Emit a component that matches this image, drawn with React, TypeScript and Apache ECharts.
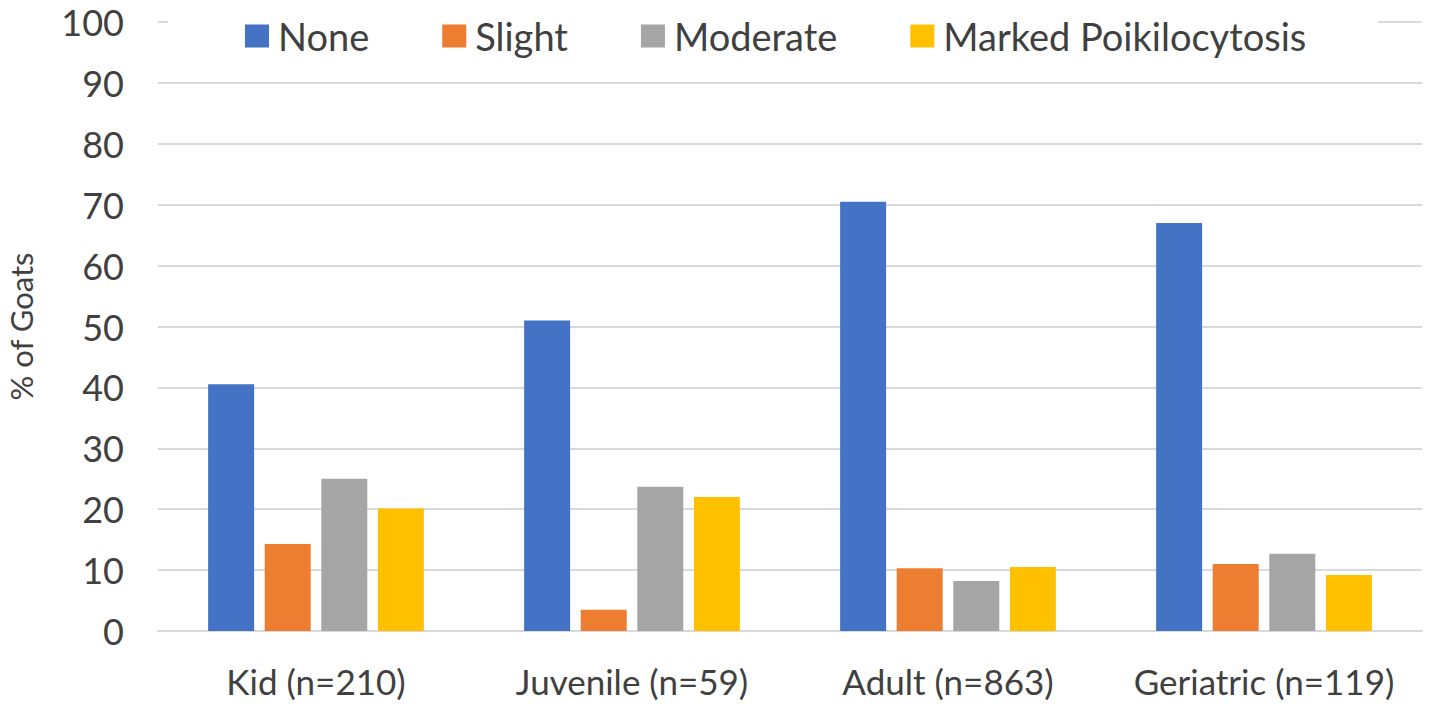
import React, { useEffect, useRef } from "react";
import * as echarts from "echarts";

const categories = ["Kid (n=210)", "Juvenile (n=59)", "Adult (n=863)", "Geriatric (n=119)"];
const seriesNames = ["None", "Slight", "Moderate", "Marked Poikilocytosis"];
const noneValues = [40.5, 51, 70.5, 67];
const slightValues = [14.3, 3.5, 10.3, 11];
const moderateValues = [25, 23.7, 8.2, 12.7];
const markedValues = [20.1, 22, 10.5, 9.2];
const colors = ["#4472C4", "#ED7D31", "#A5A5A5", "#FFC000"];

const FONT = "Lato, 'Open Sans', sans-serif";
const TEXT = "#404040";

export default function App() {
  const ref = useRef<HTMLDivElement>(null);
  useEffect(() => {
    if (!ref.current) return;
    const chart = echarts.init(ref.current, undefined, { renderer: "svg" });
    const values = [noneValues, slightValues, moderateValues, markedValues];
    chart.setOption({
      animation: false,
      backgroundColor: "#ffffff",
      color: colors,
      textStyle: { fontFamily: FONT },
      legend: {
        top: 10,
        left: 168,
        padding: [7, 72, 7, 77],
        backgroundColor: "#ffffff",
        itemWidth: 24,
        itemHeight: 23,
        itemGap: 73,
        icon: "rect",
        textStyle: { fontSize: 38, color: TEXT, fontFamily: FONT, padding: [0, 0, 0, 4] },
        data: seriesNames,
      },
      grid: { left: 158, right: 7, top: 22, bottom: 80, outerBoundsMode: "none" },
      xAxis: {
        type: "category",
        data: categories,
        axisLine: { show: true, lineStyle: { color: "#D9D9D9", width: 2 } },
        axisTick: { show: false },
        axisLabel: { interval: 0, fontSize: 35, color: TEXT, margin: 32, fontFamily: FONT },
      },
      yAxis: {
        type: "value",
        min: 0,
        max: 100,
        interval: 10,
        name: "% of Goats",
        nameLocation: "middle",
        nameGap: 122,
        nameTextStyle: { fontSize: 31, color: TEXT, fontFamily: FONT },
        axisLine: { show: false },
        axisTick: { show: false },
        axisLabel: { fontSize: 36, color: TEXT, margin: 34, fontFamily: FONT },
        splitLine: { lineStyle: { color: "#D9D9D9", width: 2 } },
      },
      series: seriesNames.map((name, i) => ({
        name,
        type: "bar",
        data: values[i],
        barWidth: 46,
        barGap: "23%",
        itemStyle: { color: colors[i] },
      })),
    });
    return () => chart.dispose();
  }, []);
  return (
    <div
      ref={ref}
      style={{ position: "fixed", left: 0, top: 0, width: 1429, height: 711 }}
    />
  );
}
